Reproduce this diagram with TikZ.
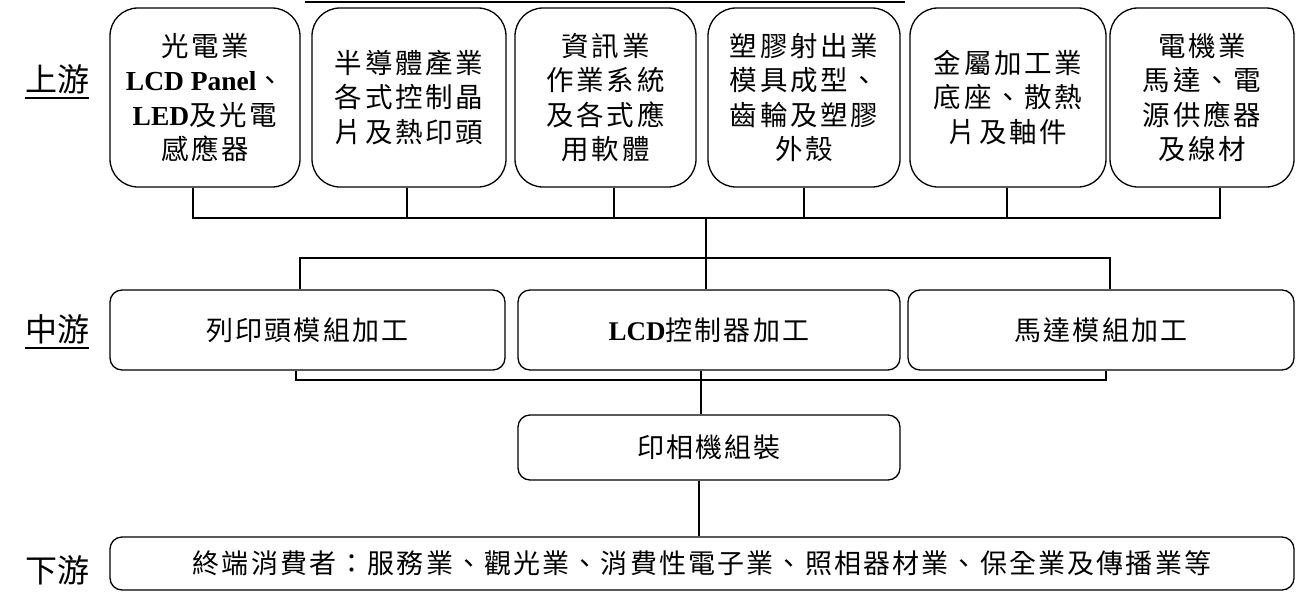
\documentclass[tikz,border=0pt]{standalone}
\usepackage{fontspec}
\setmainfont{Liberation Serif}
\newfontfamily\cjk[LetterSpace=10]{Noto Sans CJK TC}
\newfontfamily\cjkm[LetterSpace=8]{Noto Sans CJK TC}
\newfontfamily\cjklab{Noto Sans CJK TC}
\newfontfamily\latinf{Liberation Serif}
\newcommand\LB[1]{{\latinf\bfseries #1}}
\tikzset{
  lw/.style={line width=1.3pt},
  topbox/.style={draw, lw, rounded corners=28pt, align=center, inner sep=0pt,
     minimum height=179pt, font=\cjk\fontsize{27.5}{34.5}\selectfont},
  midbox/.style={draw, lw, rounded corners=12pt, align=center, inner sep=0pt,
     font=\cjkm\fontsize{27}{30}\selectfont},
  lab/.style={inner sep=0pt, font=\cjklab\fontsize{32}{34}\selectfont},
  conn/.style={lw}
}
\begin{document}
\begin{tikzpicture}[x=1pt, y=-1pt]
\useasboundingbox (0,0) rectangle (1296,592);
% partial line at the top
\coordinate (tl) at (305,2);
\coordinate (tr) at (905,2);
\draw[line width=1.6pt] (tl) -- (tr);
% labels
\node[lab] (L1) at (57,79) {上游};
\node[lab] (L2) at (57,329) {中游};
\node[lab] (L3) at (57,570) {下游};
\draw[lw] ([yshift=-4pt]L1.south west) -- ([yshift=-4pt]L1.south east);
\draw[lw] ([yshift=-4pt]L2.south west) -- ([yshift=-4pt]L2.south east);
% top boxes
\node[topbox, minimum width=190pt] (t1) at (205,97.5) {光電業\\\LB{LCD Panel}、\\\LB{LED}及光電\\感應器};
\node[topbox, minimum width=194pt] (t2) at (409,97.5) {半導體產業\\各式控制晶\\片及熱印頭};
\node[topbox, minimum width=181pt] (t3) at (605.5,97.5) {資訊業\\作業系統\\及各式應\\用軟體};
\node[topbox, minimum width=192pt] (t4) at (804,97.5) {塑膠射出業\\模具成型、\\齒輪及塑膠\\外殼};
\node[topbox, minimum width=196pt] (t5) at (1008,97.5) {金屬加工業\\底座、散熱\\片及軸件};
\node[topbox, minimum width=184pt] (t6) at (1202,97.5) {電機業\\馬達、電\\源供應器\\及線材};
% middle boxes
\node[midbox, minimum width=395pt, minimum height=80pt] (m1) at (307.5,330) {列印頭模組加工};
\node[midbox, minimum width=382pt, minimum height=80pt] (m2) at (709,330) {\LB{LCD}控制器加工};
\node[midbox, minimum width=386pt, minimum height=80pt] (m3) at (1101,330) {馬達模組加工};
\node[midbox, minimum width=382pt, minimum height=65pt] (p) at (709,447.5) {印相機組裝};
\node[midbox, minimum width=1184pt, minimum height=53pt] (d) at (702,563.5) {終端消費者：服務業、觀光業、消費性電子業、照相器材業、保全業及傳播業等};
% connectors
\coordinate (busT) at (706,218);
\coordinate (busM) at (706,258);
\coordinate (busL) at (701,380);
\coordinate (pd) at (699,447.5);
\draw[conn] ([xshift=-12pt]t1.south) |- (busT);
\draw[conn] ([xshift=-2pt]t2.south) |- (busT);
\draw[conn] ([xshift=8.5pt]t3.south) |- (busT);
\draw[conn] (t4.south) |- (busT);
\draw[conn] ([xshift=-1pt]t5.south) |- (busT);
\draw[conn] ([xshift=18pt]t6.south) |- (busT);
\draw[conn] (busT) -- (m2.north -| busT);
\draw[conn] ([xshift=-7.5pt]m1.north) |- (busM);
\draw[conn] ([xshift=9pt]m3.north) |- (busM);
\draw[conn] ([xshift=-11.5pt]m1.south) |- (busL);
\draw[conn] ([xshift=5pt]m3.south) |- (busL);
\draw[conn] (m2.south -| busL) -- (p.north -| busL);
\draw[conn] (p.south -| pd) -- (d.north -| pd);
\end{tikzpicture}
\end{document}
